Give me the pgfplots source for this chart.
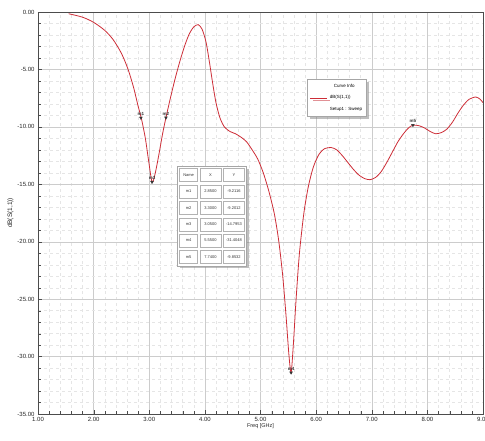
\documentclass[border=0pt]{standalone}
\usepackage{fontspec}
\setmainfont{Liberation Sans}
\usepackage{pgfplots}
\pgfplotsset{compat=1.18}
\usetikzlibrary{matrix,shadows}
\definecolor{curvered}{RGB}{205,45,55}
\begin{document}
\begin{tikzpicture}
\path[use as bounding box] (-38pt,-26pt) rectangle (447pt,414pt);
\begin{axis}[
  scale only axis, width=445pt, height=402pt,
  xmin=1, xmax=9, ymin=-35, ymax=0,
  xtick={1,2,...,9}, ytick={-35,-30,...,0},
  minor tick num=4,
  grid=both,
  major grid style={gray!40, line width=0.4pt},
  minor grid style={gray!20, dashed, line width=0.3pt},
  axis line style={gray!60!black, line width=0.7pt},
  tick style={gray!60!black},
  tick align=inside,
  xtick pos=bottom, ytick pos=left,
  /pgf/number format/assume math mode=true,
  /pgf/number format/.cd, fixed, precision=2, zerofill, /tikz/.cd,
  tick label style={font=\fontsize{6}{7}\selectfont, text=gray!30!black},
  xlabel={Freq [GHz]}, ylabel={dB(S(1,1))},
  label style={font=\fontsize{5.5}{6.5}\selectfont, text=gray!30!black},
  xlabel style={yshift=5pt},
  ylabel style={font=\fontsize{6.5}{7}\selectfont, yshift=-3pt},
  legend style={at={(axis description cs:0.672,0.786)}, anchor=center,
    font=\fontsize{4.5}{5}\selectfont, draw=gray!70, fill=white,
    drop shadow, row sep=3pt, inner sep=2.5pt, cells={anchor=west}},
  legend cell align=left,
]
\addlegendimage{empty legend}\addlegendentry{\hspace{4pt}Curve Info}
\addplot[curvered, line width=0.8pt, smooth, tension=0.45] coordinates {
(1.55,-0.15) (1.80,-0.45) (2.00,-0.9) (2.20,-1.6) (2.35,-2.4) (2.50,-3.6)
(2.62,-5.0) (2.72,-6.6) (2.80,-8.2) (2.86,-9.3) (2.93,-11.0) (2.99,-13.0)
(3.05,-14.8) (3.10,-14.2) (3.17,-12.5) (3.24,-10.6) (3.30,-9.2) (3.38,-7.5)
(3.46,-5.9) (3.55,-4.3) (3.64,-2.9) (3.72,-1.9) (3.80,-1.3) (3.88,-1.1)
(3.95,-1.5) (4.02,-2.6) (4.08,-4.3) (4.14,-6.2) (4.20,-7.9) (4.27,-9.2)
(4.35,-10.0) (4.45,-10.4) (4.55,-10.6) (4.65,-10.9) (4.75,-11.3) (4.85,-12.0)
(4.95,-12.8) (5.05,-14.0) (5.15,-15.6) (5.25,-17.6) (5.33,-20.0) (5.40,-23.0)
(5.46,-26.5) (5.51,-29.8) (5.55,-31.4) (5.59,-29.0) (5.64,-25.0) (5.70,-21.0)
(5.78,-17.5) (5.86,-15.2) (5.95,-13.5) (6.05,-12.4) (6.15,-11.9) (6.27,-11.8)
(6.37,-12.0) (6.47,-12.5) (6.57,-13.1) (6.67,-13.7) (6.77,-14.2) (6.87,-14.5)
(6.97,-14.6) (7.07,-14.4) (7.17,-13.9) (7.27,-13.1) (7.37,-12.2) (7.47,-11.3)
(7.57,-10.6) (7.66,-10.1) (7.74,-9.85) (7.85,-9.9) (7.95,-10.1) (8.05,-10.4)
(8.15,-10.6) (8.25,-10.5) (8.35,-10.2) (8.45,-9.6) (8.55,-8.8) (8.65,-8.1)
(8.75,-7.6) (8.87,-7.4) (8.95,-7.6) (9.00,-7.9)
};
\addlegendentry{dB(S(1,1))}
\addlegendimage{empty legend}\addlegendentry{Setup1 : Sweep}
\addplot[only marks, mark=triangle*, mark size=1.6pt,
  mark options={rotate=180, fill=black!80, draw=black!80},
  nodes near coords, point meta=explicit symbolic,
  every node near coord/.style={font=\fontsize{4.5}{5}\selectfont\bfseries, text=black!80, anchor=south, yshift=-1pt},
  forget plot] table[meta=label] {
x y label
2.85 -9.21 m1
3.30 -9.20 m2
3.05 -14.80 m3
5.55 -31.40 m4
7.74 -9.85 m5
};
\node[matrix of nodes, ampersand replacement=\&, anchor=center, draw=gray!70, fill=white, drop shadow,
  inner sep=2pt, row sep=3pt, column sep=2pt,
  nodes={draw=gray!60, minimum height=13pt, inner sep=1pt,
    font=\fontsize{4}{4.5}\selectfont, text=black!80, anchor=center},
  column 1/.style={nodes={minimum width=18pt}},
  column 2/.style={nodes={minimum width=21pt}},
  column 3/.style={nodes={minimum width=21pt}}]
  at (axis description cs:0.391,0.4925) {
  Name \& X \& Y \\
  m1 \& 2.8500 \& -9.2116 \\
  m2 \& 3.3000 \& -9.2012 \\
  m3 \& 3.0500 \& -14.7953 \\
  m4 \& 5.5500 \& -31.4048 \\
  m5 \& 7.7400 \& -9.8532 \\
};
\end{axis}
\end{tikzpicture}
\end{document}
